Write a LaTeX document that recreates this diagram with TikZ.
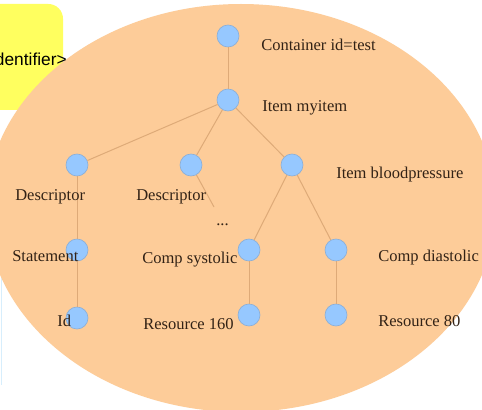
\documentclass[tikz,border=0pt]{standalone}
\usepackage{fontspec}
\setmainfont{Liberation Serif}
\newfontfamily\labelsans{Liberation Sans}
\definecolor{blobfill}{RGB}{253,204,153}
\definecolor{notefill}{RGB}{255,255,95}
\definecolor{nodeblue}{RGB}{150,200,255}
\definecolor{nodeedge}{RGB}{140,175,215}
\definecolor{linkbrown}{RGB}{222,170,120}
\definecolor{labeltext}{RGB}{50,34,22}
\definecolor{edgeblue}{RGB}{215,238,252}
\begin{document}
\begin{tikzpicture}[x=0.75pt,y=-0.75pt,
  vertex/.style={circle, fill=nodeblue, draw=nodeedge, line width=0.5pt,
                 minimum size=16.5pt, inner sep=0pt},
  link/.style={draw=linkbrown, line width=0.75pt},
  lbl/.style={anchor=base west, inner sep=0pt, text=labeltext,
              font=\fontsize{12.4}{14}\selectfont},
  notetext/.style={anchor=base east, inner sep=0pt, text=black,
                   font=\labelsans\fontsize{13}{15}\selectfont}]
\useasboundingbox (0,0) rectangle (482,410);
\fill[white] (0,0) rectangle (482,410);

% yellow note box, partly hidden behind the ellipse
\fill[notefill, rounded corners=11pt] (-20,4) rectangle (63,110);
% faint border line at the left edge
\draw[edgeblue, line width=1.2pt] (1.5,195) -- (1.5,385);

% big peach ellipse
\fill[blobfill] (241,208) ellipse [x radius=191.25pt, y radius=153pt];

\node[notetext] (ident) at (67,66) {<Identifier>};

% tree vertices
\node[vertex] (cont) at (228,36) {};
\node[vertex] (item) at (228,100) {};
\node[vertex] (descA) at (77,165) {};
\node[vertex] (descB) at (191,165) {};
\node[vertex] (bp) at (292,165) {};
\node[vertex] (stmt) at (77,250) {};
\node[vertex] (sys) at (249,250) {};
\node[vertex] (dia) at (336,250) {};
\node[vertex] (id) at (77,318) {};
\node[vertex] (res160) at (249,315) {};
\node[vertex] (res80) at (336,315) {};
\coordinate (moreend) at (214,207);

% connectors
\draw[link] (cont) -- (item);
\draw[link] (item) -- (descA);
\draw[link] (item) -- (descB);
\draw[link] (item) -- (bp);
\draw[link] (descA) -- (stmt);
\draw[link] (stmt) -- (id);
\draw[link] (descB) -- (moreend);
\draw[link] (bp) -- (sys);
\draw[link] (bp) -- (dia);
\draw[link] (sys) -- (res160);
\draw[link] (dia) -- (res80);

% labels
\node[lbl] (tcont) at (261,50.5) {Container id=test};
\node[lbl] (titem) at (262,111.5) {Item myitem};
\node[lbl] (tdescA) at (15,200.5) {Descriptor};
\node[lbl] (tdescB) at (136,200.5) {Descriptor};
\node[lbl] (tmore) at (216,225) {...};
\node[lbl] (tbp) at (336,178.3) {Item bloodpressure};
\node[lbl] (tstmt) at (12,261.7) {Statement};
\node[lbl] (tsys) at (142,263) {Comp systolic};
\node[lbl] (tdia) at (378,261.7) {Comp diastolic};
\node[lbl] (tid) at (57,326.7) {Id};
\node[lbl] (tres160) at (143,329.3) {Resource 160};
\node[lbl] (tres80) at (378,326.7) {Resource 80};
\end{tikzpicture}
\end{document}
